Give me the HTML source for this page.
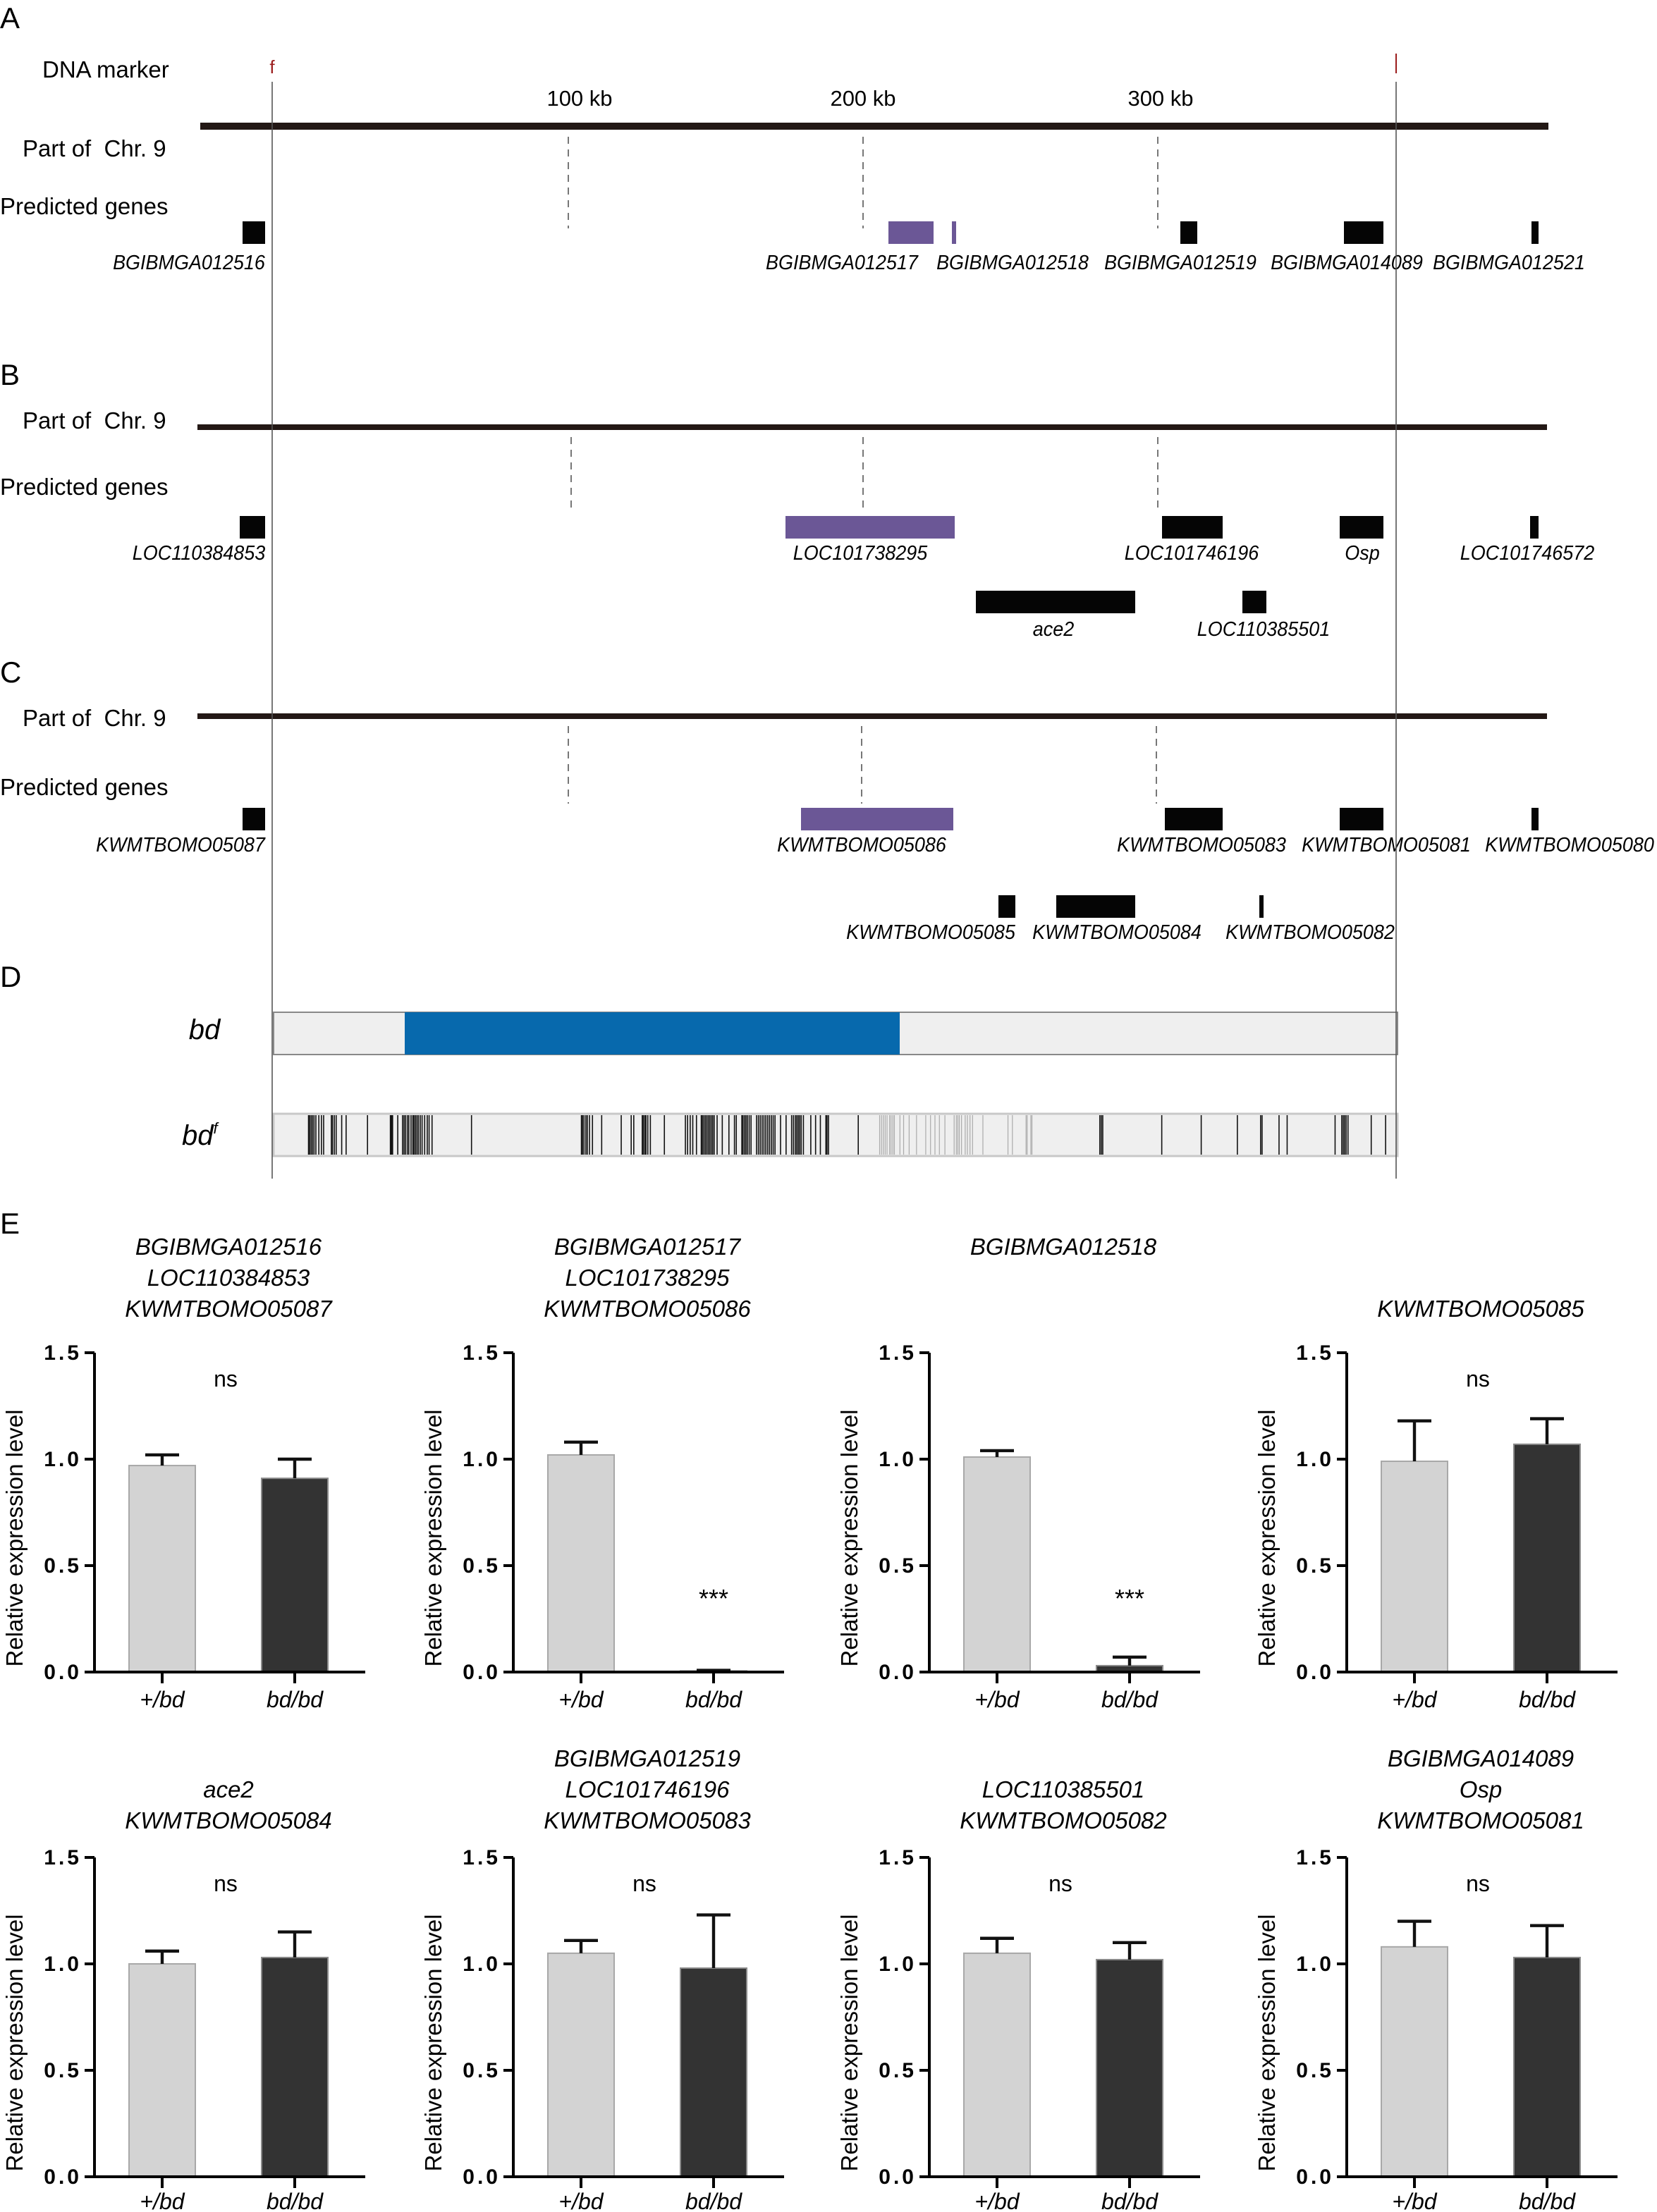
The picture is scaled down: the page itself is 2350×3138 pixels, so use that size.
<!DOCTYPE html>
<html><head><meta charset="utf-8">
<style>
html,body{margin:0;padding:0;background:#fff;}
svg{display:block;}
text{font-family:"Liberation Sans",Arial,sans-serif;white-space:pre;}
.it{font-style:italic;}
</style></head>
<body>
<svg id="fig" width="2350" height="3138" viewBox="0 0 1175 1569" xmlns="http://www.w3.org/2000/svg">
<g>
<text x="0" y="20" font-size="21">A</text>
<text x="30" y="55" font-size="16.5">DNA marker</text>
<text x="193" y="52" font-size="13" fill="#9b1c1c" text-anchor="middle">f</text>
<line x1="990" y1="38" x2="990" y2="52" stroke="#9b1c1c" stroke-width="1"/>
<text x="411" y="75" font-size="15.5" text-anchor="middle">100 kb</text>
<text x="612" y="75" font-size="15.5" text-anchor="middle">200 kb</text>
<text x="823" y="75" font-size="15.5" text-anchor="middle">300 kb</text>
<rect x="142" y="87" width="956" height="5" fill="#231815"/>
<text x="16" y="111" font-size="16.5">Part of  Chr. 9</text>
<text x="0" y="152" font-size="16.5">Predicted genes</text>
</g>
<g>
<text x="0" y="273" font-size="21">B</text>
<rect x="140" y="301" width="957" height="4" fill="#231815"/>
<text x="16" y="304" font-size="16.5">Part of  Chr. 9</text>
<text x="0" y="351" font-size="16.5">Predicted genes</text>
</g>
<g>
<text x="0" y="484" font-size="21">C</text>
<rect x="140" y="506" width="957" height="4" fill="#231815"/>
<text x="16" y="515" font-size="16.5">Part of  Chr. 9</text>
<text x="0" y="564" font-size="16.5">Predicted genes</text>
</g>
<g id="genes"></g>
<g>
<text x="0" y="700" font-size="21">D</text>
<text x="145" y="737" font-size="20" class="it" text-anchor="middle">bd</text>
<rect x="194" y="718" width="797" height="30" fill="#efefef" stroke="#888" stroke-width="1"/>
<rect x="287" y="718" width="351" height="30" fill="#0769ad"/>
<text x="129" y="812" font-size="20" class="it">bd<tspan font-size="11" dy="-8">f</tspan></text>
<rect x="194" y="790" width="797" height="30" fill="#efefef" stroke="#c8c8c8" stroke-width="1.5"/>
<g id="stripes"></g>
</g>
<line x1="193" y1="58" x2="193" y2="836" stroke="#555" stroke-width="0.8"/>
<line x1="990" y1="58" x2="990" y2="836" stroke="#555" stroke-width="0.8"/>
<text x="0" y="875" font-size="21">E</text>
<g id="charts"></g>
</svg>
<script>
const NS="http://www.w3.org/2000/svg";
function mk(tag,attrs,parent,txt){const e=document.createElementNS(NS,tag);for(const k in attrs)e.setAttribute(k,attrs[k]);if(txt!==undefined)e.textContent=txt;parent.appendChild(e);return e;}

// ---- gene tracks ----
const geneTracks = document.getElementById('genes');
const geneBoxes = [
 [172,188,157,'k'],[630,662,157,'p'],[675,678,157,'p'],[837,849,157,'k'],[953,981,157,'k'],[1086,1091,157,'k'],
 [170,188,366,'k'],[557,677,366,'p'],[824,867,366,'k'],[950,981,366,'k'],[1085,1091,366,'k'],
 [692,805,419,'k'],[881,898,419,'k'],
 [172,188,573,'k'],[568,676,573,'p'],[826,867,573,'k'],[950,981,573,'k'],[1086,1091,573,'k'],
 [708,720,635,'k'],[749,805,635,'k'],[893,896,635,'k']
];
const geneNames = [
 ['BGIBMGA012516',134,191],['BGIBMGA012517',597,191],['BGIBMGA012518',718,191],['BGIBMGA012519',837,191],['BGIBMGA014089',955,191],['BGIBMGA012521',1070,191],
 ['LOC110384853',141,397],['LOC101738295',610,397],['LOC101746196',845,397],['Osp',966,397],['LOC101746572',1083,397],
 ['ace2',747,451],['LOC110385501',896,451],
 ['KWMTBOMO05087',128,604],['KWMTBOMO05086',611,604],['KWMTBOMO05083',852,604],['KWMTBOMO05081',983,604],['KWMTBOMO05080',1113,604],
 ['KWMTBOMO05085',660,666],['KWMTBOMO05084',792,666],['KWMTBOMO05082',929,666]
];
const dashed = [[403,97,162],[612,97,162],[821,97,162],[405,310,362],[612,310,362],[821,310,362],[403,515,570],[611,515,570],[820,515,570]];
dashed.forEach(d=>{
  const l=mk('line',{x1:d[0],x2:d[0],y1:d[1],y2:d[2],stroke:'#777','stroke-width':1,'stroke-dasharray':'5,4'},geneTracks);
  
  
});
geneBoxes.forEach(g=>{
  const r=mk('rect',{x:g[0],y:g[2],width:g[1]-g[0],height:16,fill:g[3]==='p'?'#6b5796':'#050505'},geneTracks);
  
  
});
geneNames.forEach(n=>{
  const t=mk('text',{x:n[1],y:n[2],'font-size':14.5,'text-anchor':'middle','class':'it',transform:`translate(${n[1]},0) scale(0.93,1) translate(${-n[1]},0)`},geneTracks,n[0]);
  
  
});

// ---- bd^f stripes ----
const stripeBlackA=[110,113,117,121,125,130,138,145,151,172,175,180,185,200,212,270,332,335,338,352,365,369,373,378,382,388,393,396,400,404,408,413,418,425,432,437,445,552,850,853,857,862,866,872,880,905,958,985,992,1015,1018,1022,1025,1030,1037,1075,1132,1138,1145,1152,1162,1175,1178,1182,1186,1190,1194,1198,1202,1206,1210,1218,1232,1250,1265,1270,1285,1288,1292,1296,1300,1305,1310,1325,1330,1335,1340,1345,1350,1355,1360,1365,1370,1375,1390,1405,1420,1425,1430,1434,1438,1442,1446,1452,1472,1485,1498,1513,1516,1520];
const stripeBlackB=[52,707,711,715,875,982,1080,1143,1147,1193,1215,1345,1363,1367,1371,1375,1380,1443,1482];
const stripeGreyB=[110,115,120,125,130,137,141,146,150,165,175,190,210,235,248,260,272,287,312,318,322,326,332,342,348,355,362,390,458,470,507,510,520,523];
const stripeG=document.getElementById('stripes');
function sxA(z){return 190+z/3.824;}
function sxB(z){return 595+z/3.824;}
stripeBlackA.forEach(z=>{const l=mk('line',{x1:sxA(z),x2:sxA(z),y1:791,y2:819,stroke:'#111','stroke-width':0.8},stripeG);
 
 });
stripeBlackB.forEach(z=>{const l=mk('line',{x1:sxB(z),x2:sxB(z),y1:791,y2:819,stroke:'#111','stroke-width':0.8},stripeG);
 
 });
stripeGreyB.forEach(z=>{const l=mk('line',{x1:sxB(z),x2:sxB(z),y1:791,y2:819,stroke:'#aaa','stroke-width':0.6},stripeG);
 
 });

// ---- expression charts ----
const chartTitles=[
 ['BGIBMGA012516','LOC110384853','KWMTBOMO05087'],
 ['BGIBMGA012517','LOC101738295','KWMTBOMO05086'],
 ['BGIBMGA012518'],
 ['KWMTBOMO05085'],
 ['ace2','KWMTBOMO05084'],
 ['BGIBMGA012519','LOC101746196','KWMTBOMO05083'],
 ['LOC110385501','KWMTBOMO05082'],
 ['BGIBMGA014089','Osp','KWMTBOMO05081']
];
const categories=['+/bd','bd/bd'];
const hetMeans=[0.97,1.02,1.01,0.99,1.00,1.05,1.05,1.08];
const hetErr=[0.05,0.06,0.03,0.19,0.06,0.06,0.07,0.12];
const homMeans=[0.91,0.005,0.03,1.07,1.03,0.98,1.02,1.03];
const homErr=[0.09,0.003,0.04,0.12,0.12,0.25,0.08,0.15];
const sigLabels=['ns','***','***','ns','ns','ns','ns','ns'];
const yTicks=[0,0.5,1.0,1.5];
const yTickLabels=['0.0','0.5','1.0','1.5'];

const axisXs=[67,364,659,955];
const rowBase=[1186,1544];
const unit=151;
const charts=document.getElementById('charts');
for(let i=0;i<8;i++){
  const row=Math.floor(i/4), col=i%4;
  const ax=axisXs[col], y0=rowBase[row];
  const g=mk('g',{},charts);
  
  
  const Y=v=>y0-v*unit;
  const X=k=>ax+48+k*94;
  const lines=chartTitles[i];
  const baseTitleY = row===0 ? 934 : 1297;
  lines.forEach((t,j)=>{
    const ty = (i===2)?890:baseTitleY-(lines.length-1-j)*22;
    const tt=mk('text',{x:ax+95,y:ty,'font-size':16.5,'text-anchor':'middle','class':'it'},g,t);
    
    
  });
  const yl=mk('text',{x:0,y:0,'font-size':16.5,'text-anchor':'middle',transform:`translate(${ax-51},${y0-95}) rotate(-90)`},g,'Relative expression level');
  
  
  [[hetMeans[i],hetErr[i],'#d3d3d3','#a8a8a8'],[homMeans[i],homErr[i],'#333333','#8a8a8a']].forEach((b,k)=>{
    const cx=X(k);
    const r=mk('rect',{x:cx-23.5,y:Y(b[0]),width:47,height:y0-Y(b[0]),fill:b[2],stroke:b[3],'stroke-width':1},g);
    
    
    const e=mk('path',{d:`M${cx},${Y(b[0])} V${Y(b[0]+b[1])} M${cx-12},${Y(b[0]+b[1])} H${cx+12}`,stroke:'#111','stroke-width':2.2,fill:'none'},g);
    
    
    const xl=mk('text',{x:cx,y:row===0?y0+25:y0+23,'font-size':16,'text-anchor':'middle','class':'it'},g,categories[k]);
    
    
    const xt=mk('line',{x1:cx,x2:cx,y1:y0,y2:y0+8,stroke:'#000','stroke-width':2},g);
    
    
  });
  const sig=sigLabels[i];
  let sxp, syp;
  if(sig==='ns'){sxp=ax+93; syp=Y(1.5)+24;}
  else {sxp=X(1); syp=y0-46;}
  const st=mk('text',{x:sxp,y:syp,'font-size':sig==='ns'?16:18,'text-anchor':'middle'},g,sig);
  
  
  const ya=mk('line',{x1:ax,x2:ax,y1:Y(1.5),y2:y0,stroke:'#000','stroke-width':2},g);
  
  
  const xa=mk('line',{x1:ax-1,x2:ax+192,y1:y0,y2:y0,stroke:'#000','stroke-width':2},g);
  
  
  yTicks.forEach((v,j)=>{
    const t=mk('line',{x1:ax-7,x2:ax,y1:Y(v),y2:Y(v),stroke:'#000','stroke-width':2},g);
    
    
    const tl=mk('text',{x:ax-9,y:Y(v)+5,'font-size':15,'font-weight':'bold','text-anchor':'end','letter-spacing':'2'},g,yTickLabels[j]);
    
    
  });
}
</script>
</body></html>
